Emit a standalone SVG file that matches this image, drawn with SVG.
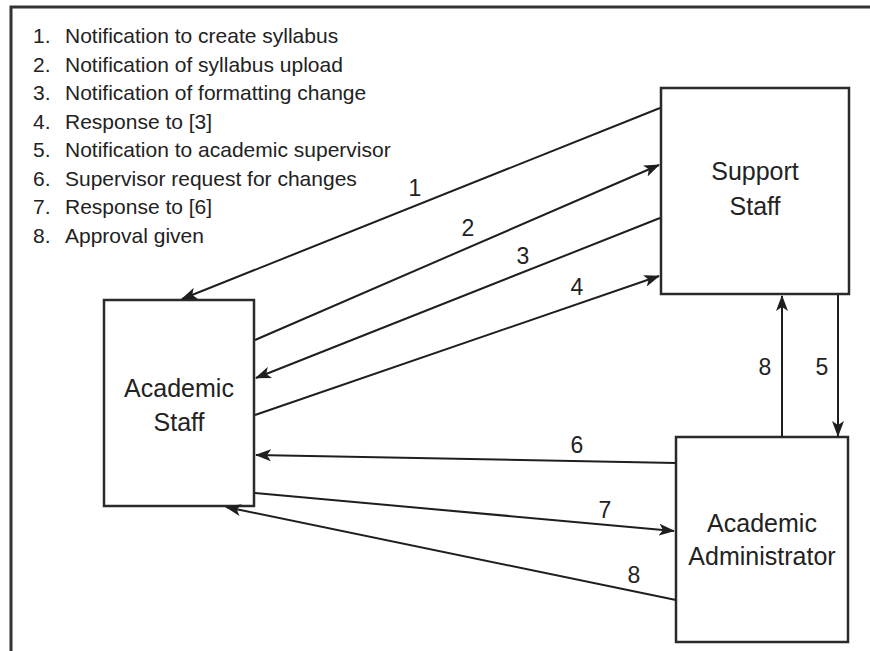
<svg xmlns="http://www.w3.org/2000/svg" width="870" height="651" viewBox="0 0 870 651">
<defs>
<style>
.box{fill:#fff;stroke:#2a2a2a;stroke-width:2.5}
.lbl{font-family:"Liberation Sans",Arial,sans-serif;font-size:25px;fill:#222;text-anchor:middle}
.leg{font-family:"Liberation Sans",Arial,sans-serif;font-size:21px;fill:#222}
.num{font-family:"Liberation Sans",Arial,sans-serif;font-size:23px;fill:#222;text-anchor:middle}
.conn{fill:none;stroke:#1e1e1e;stroke-width:2}
</style>
<marker id="ah" viewBox="0 0 16 12" refX="15" refY="6" markerWidth="16" markerHeight="12" markerUnits="userSpaceOnUse" orient="auto">
<path d="M0,0 L16,6 L0,12 L4,6 z" fill="#1e1e1e"/>
</marker>
</defs>
<rect width="870" height="651" fill="#fff"/>
<path d="M11,651 L11,7 L870,7" fill="none" stroke="#333" stroke-width="3"/>
<g id="legend">
<text class="leg" x="33" y="43">1.</text><text class="leg" x="65" y="43">Notification to create syllabus</text>
<text class="leg" x="33" y="71.5">2.</text><text class="leg" x="65" y="71.5">Notification of syllabus upload</text>
<text class="leg" x="33" y="100">3.</text><text class="leg" x="65" y="100">Notification of formatting change</text>
<text class="leg" x="33" y="128.5">4.</text><text class="leg" x="65" y="128.5">Response to [3]</text>
<text class="leg" x="33" y="157">5.</text><text class="leg" x="65" y="157">Notification to academic supervisor</text>
<text class="leg" x="33" y="185.5">6.</text><text class="leg" x="65" y="185.5">Supervisor request for changes</text>
<text class="leg" x="33" y="214">7.</text><text class="leg" x="65" y="214">Response to [6]</text>
<text class="leg" x="33" y="242.5">8.</text><text class="leg" x="65" y="242.5">Approval given</text>
</g>
<g id="academic-staff">
<rect class="box" x="104" y="300" width="150" height="206"/>
<text class="lbl" x="179" y="397">Academic</text>
<text class="lbl" x="179" y="431">Staff</text>
</g>
<g id="support-staff">
<rect class="box" x="661" y="88" width="188" height="206"/>
<text class="lbl" x="755" y="180">Support</text>
<text class="lbl" x="755" y="215">Staff</text>
</g>
<g id="academic-administrator">
<rect class="box" x="676" y="437" width="172" height="205"/>
<text class="lbl" x="762" y="532">Academic</text>
<text class="lbl" x="762" y="565">Administrator</text>
</g>
<g id="connectors">
<line class="conn" x1="660" y1="108" x2="182" y2="299" marker-end="url(#ah)"/>
<line class="conn" x1="255" y1="340" x2="659" y2="165" marker-end="url(#ah)"/>
<line class="conn" x1="660" y1="218" x2="256" y2="378" marker-end="url(#ah)"/>
<line class="conn" x1="255" y1="415" x2="659" y2="276" marker-end="url(#ah)"/>
<line class="conn" x1="676" y1="463" x2="256" y2="455" marker-end="url(#ah)"/>
<line class="conn" x1="255" y1="493" x2="674" y2="531" marker-end="url(#ah)"/>
<line class="conn" x1="676" y1="600" x2="226" y2="507" marker-end="url(#ah)"/>
<line class="conn" x1="782" y1="437" x2="782" y2="296" stroke-width="3" marker-end="url(#ah)"/>
<line class="conn" x1="838" y1="295" x2="838" y2="436" stroke-width="1.5" marker-end="url(#ah)"/>
<text class="num" x="415" y="196">1</text>
<text class="num" x="468" y="236">2</text>
<text class="num" x="523" y="264">3</text>
<text class="num" x="577" y="295">4</text>
<text class="num" x="577" y="453">6</text>
<text class="num" x="605" y="518">7</text>
<text class="num" x="634" y="583">8</text>
<text class="num" x="765" y="375">8</text>
<text class="num" x="822" y="375">5</text>
</g>
</svg>
